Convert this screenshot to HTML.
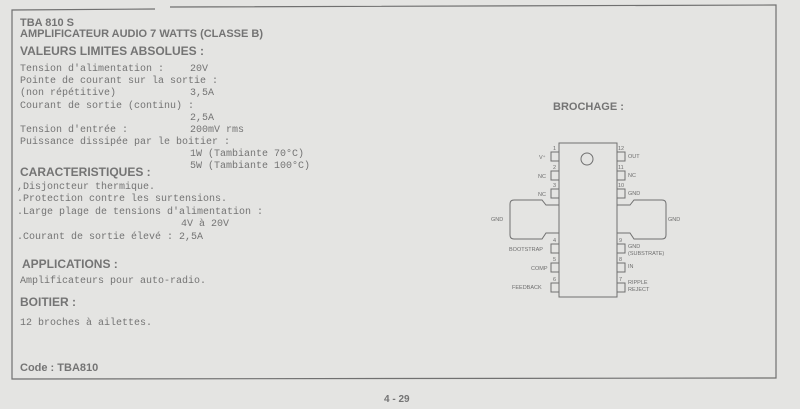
<!DOCTYPE html>
<html><head><meta charset="utf-8"><style>
html,body{margin:0;padding:0;background:#e4e4e2;}
svg{display:block}
.m{font-family:"Liberation Mono",monospace;font-size:10px;fill:#747474}
.h{font-family:"Liberation Sans",sans-serif;font-weight:bold;fill:#747474}
.s{font-family:"Liberation Sans",sans-serif;font-size:5.5px;fill:#6e6e6e}
</style></head><body>
<svg width="800" height="409" viewBox="0 0 800 409" xmlns="http://www.w3.org/2000/svg">
<rect width="800" height="409" fill="#e4e4e2"/>
<g fill="none" stroke="#707070" stroke-width="1.2">
<path d="M155 9 L12 10 L12 379 L776 378 L776 5 L170 7"/>
</g>
<text class="h" x="20" y="26" font-size="11">TBA 810 S</text>
<text class="h" x="20" y="37" font-size="11">AMPLIFICATEUR AUDIO 7 WATTS (CLASSE B)</text>
<text class="h" x="20" y="55" font-size="12">VALEURS LIMITES ABSOLUES :</text>
<g class="m">
<text x="20" y="71">Tension d'alimentation :</text><text x="190" y="71">20V</text>
<text x="20" y="83">Pointe de courant sur la sortie :</text>
<text x="20" y="95">(non répétitive)</text><text x="190" y="95">3,5A</text>
<text x="20" y="108">Courant de sortie (continu) :</text>
<text x="190" y="120">2,5A</text>
<text x="20" y="132">Tension d'entrée :</text><text x="190" y="132">200mV rms</text>
<text x="20" y="144">Puissance dissipée par le boitier :</text>
<text x="190" y="156">1W (Tambiante  70°C)</text>
<text x="190" y="168">5W (Tambiante 100°C)</text>
<text x="17" y="189">,Disjoncteur thermique.</text>
<text x="17" y="201">.Protection contre les surtensions.</text>
<text x="17" y="214">.Large plage de tensions d'alimentation :</text>
<text x="181" y="226">4V à 20V</text>
<text x="17" y="239">.Courant de sortie élevé : 2,5A</text>
<text x="20" y="283">Amplificateurs pour auto-radio.</text>
<text x="20" y="325">12 broches à ailettes.</text>
</g>
<text class="h" x="20" y="176" font-size="12">CARACTERISTIQUES :</text>
<text class="h" x="22" y="268" font-size="12">APPLICATIONS :</text>
<text class="h" x="20" y="306" font-size="12">BOITIER :</text>
<text class="h" x="20" y="371" font-size="11">Code : TBA810</text>
<text class="h" x="384" y="402" font-size="10">4 - 29</text>
<text class="h" x="553" y="110" font-size="11">BROCHAGE :</text>
<g fill="none" stroke="#707070" stroke-width="1">
<rect x="559" y="143" width="58" height="154"/>
<circle cx="587" cy="159" r="6"/>
<rect x="551" y="152" width="8" height="9"/><rect x="551" y="171" width="8" height="9"/><rect x="551" y="189" width="8" height="9"/>
<rect x="551" y="244" width="8" height="9"/><rect x="551" y="263" width="8" height="9"/><rect x="551" y="283" width="8" height="9"/>
<rect x="617" y="152" width="8" height="9"/><rect x="617" y="171" width="8" height="9"/><rect x="617" y="189" width="8" height="9"/>
<rect x="617" y="244" width="8" height="9"/><rect x="617" y="263" width="8" height="9"/><rect x="617" y="283" width="8" height="9"/>
<path d="M559 205 L546 205 L542 200 L514 200 Q510 200 510 204 L510 235 Q510 239 514 239 L542 239 L546 233 L559 233"/>
<path d="M617 205 L630 205 L634 200 L662 200 Q666 200 666 204 L666 235 Q666 239 662 239 L634 239 L630 233 L617 233"/>
</g>
<g class="s">
<text x="553" y="150">1</text><text x="553" y="169">2</text><text x="553" y="187">3</text>
<text x="553" y="242">4</text><text x="553" y="261">5</text><text x="553" y="281">6</text>
<text x="618" y="150">12</text><text x="618" y="169">11</text><text x="618" y="187">10</text>
<text x="619" y="242">9</text><text x="619" y="261">8</text><text x="619" y="281">7</text>
<text x="539" y="159">V⁺</text><text x="538" y="178">NC</text><text x="538" y="196">NC</text>
<text x="491" y="221">GND</text><text x="668" y="221">GND</text>
<text x="509" y="251">BOOTSTRAP</text><text x="531" y="270">COMP</text><text x="512" y="289">FEEDBACK</text>
<text x="628" y="158">OUT</text><text x="628" y="177">NC</text><text x="628" y="195">GND</text>
<text x="628" y="248">GND</text><text x="628" y="255">(SUBSTRATE)</text>
<text x="628" y="268">IN</text>
<text x="628" y="284">RIPPLE</text><text x="628" y="291">REJECT</text>
</g>
</svg>
</body></html>
